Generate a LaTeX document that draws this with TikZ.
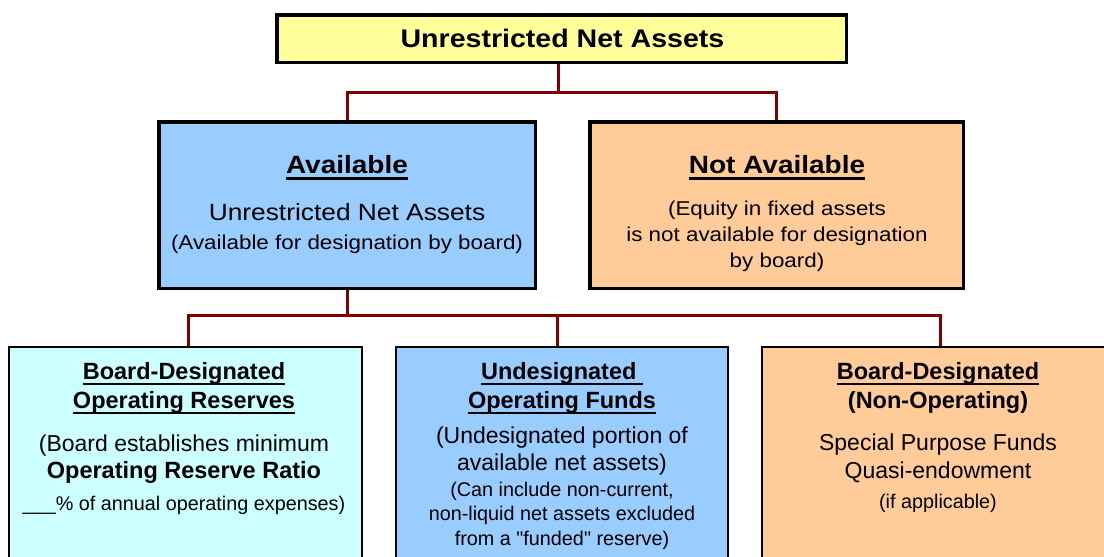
\documentclass[tikz,border=0pt]{standalone}
\usepackage{fontspec}
\setmainfont{Liberation Sans}
\newfontfamily\widefont{Liberation Sans}[FakeStretch=1.12]
\definecolor{netyellow}{HTML}{FFFF99}
\definecolor{netblue}{HTML}{99CCFF}
\definecolor{netorange}{HTML}{FFCC99}
\definecolor{netcyan}{HTML}{CCFFFF}
\definecolor{linkred}{HTML}{800000}
\newcommand\undl[1]{\setbox0=\hbox{#1}\rlap{\rule[-.26em]{\wd0}{.11em}}\box0}

\begin{document}
\begin{tikzpicture}%
  [x=1pt,y=-1pt,
   ttl/.style={font=\widefont\bfseries\fontsize{25.5}{30}\selectfont},
   hd/.style={font=\widefont\bfseries\fontsize{25}{30}\selectfont},
   up/.style={font=\widefont\fontsize{23.5}{28}\selectfont},
   us/.style={font=\widefont\fontsize{20}{24}\selectfont},
   lhd/.style={font=\bfseries\fontsize{23.5}{28}\selectfont},
   lrg/.style={font=\fontsize{23}{27}\selectfont},
   lsm/.style={font=\fontsize{19.8}{24}\selectfont}]
  \tikzstyle{big box}=[rectangle,draw=black,line width=3.5pt,minimum height=166.5pt]
  \tikzstyle{low box}=[rectangle,draw=black,line width=2pt,minimum height=252pt]
  \tikzstyle{link}=[draw=linkred,line width=3pt]
  \clip (0,0) rectangle (1104,557);
  % boxes
  \node(top)[big box,fill=netyellow,minimum width=569.5pt,minimum height=47.5pt] at (561.5,38.5) {};
  \node(avail)[big box,fill=netblue,minimum width=376.5pt] at (347,205) {};
  \node(notav)[big box,fill=netorange,minimum width=373.5pt] at (776.5,205) {};
  \node(lres)[low box,fill=netcyan,minimum width=353pt] at (185.5,473) {};
  \node(ufund)[low box,fill=netblue,minimum width=332pt] at (562,473) {};
  \node(bdes)[low box,fill=netorange,minimum width=356pt] at (940,473) {};
  % connectors
  \draw[link] ([xshift=-3pt]top.south) -- ++(0,28) -| (avail.north);
  \draw[link] ([xshift=-3pt]top.south) -- ++(0,28) -| (notav.north);
  \draw[link] (avail.south) -- ++(0,25) -| ([xshift=2.5pt]lres.north);
  \draw[link] (avail.south) -- ++(0,25) -| ([xshift=-5pt]ufund.north);
  \draw[link] (avail.south) -- ++(0,25) -| (bdes.north);
  % texts
  \node(ttl)[ttl,anchor=base] at (562.5,47) {Unrestricted Net Assets};
  \foreach \y/\s/\t [count=\i] in {173/hd/{\undl{Available}},
      220/up/{Unrestricted Net Assets},
      249/us/{(Available for designation by board)}}
    \node(av\i)[\s,anchor=base] at (347,\y) {\t};
  \foreach \y/\s/\t [count=\i] in {173/hd/{\undl{Not Available}},
      215/us/{(Equity in fixed assets},
      241/us/{is not available for designation},
      267/us/{by board)}}
    \node(na\i)[\s,anchor=base] at (777,\y) {\t};
  \foreach \y/\s/\t [count=\i] in {379/lhd/{\undl{Board-Designated}},
      408/lhd/{\undl{Operating Reserves}},
      451/lrg/{(Board establishes minimum},
      478/lhd/{Operating Reserve Ratio},
      510/lsm/{\_\_\_\% of annual operating expenses)}}
    \node(lr\i)[\s,anchor=base] at (184,\y) {\t};
  \foreach \y/\s/\t [count=\i] in {379/lhd/{\undl{Undesignated\ }},
      408/lhd/{\undl{Operating Funds}},
      443/lrg/{(Undesignated portion of},
      470/lrg/{available net assets)},
      496/lsm/{(Can include non-current,},
      520/lsm/{non-liquid net assets excluded},
      545/lsm/{from a \textquotedbl funded\textquotedbl\ reserve)}}
    \node(uf\i)[\s,anchor=base] at (562,\y) {\t};
  \foreach \y/\s/\t [count=\i] in {379/lhd/{\undl{Board-Designated}},
      408/lhd/{(Non-Operating)},
      450/lrg/{Special Purpose Funds},
      478/lrg/{Quasi-endowment},
      508/lsm/{(if applicable)}}
    \node(bd\i)[\s,anchor=base] at (938,\y) {\t};
\end{tikzpicture}
\end{document}
